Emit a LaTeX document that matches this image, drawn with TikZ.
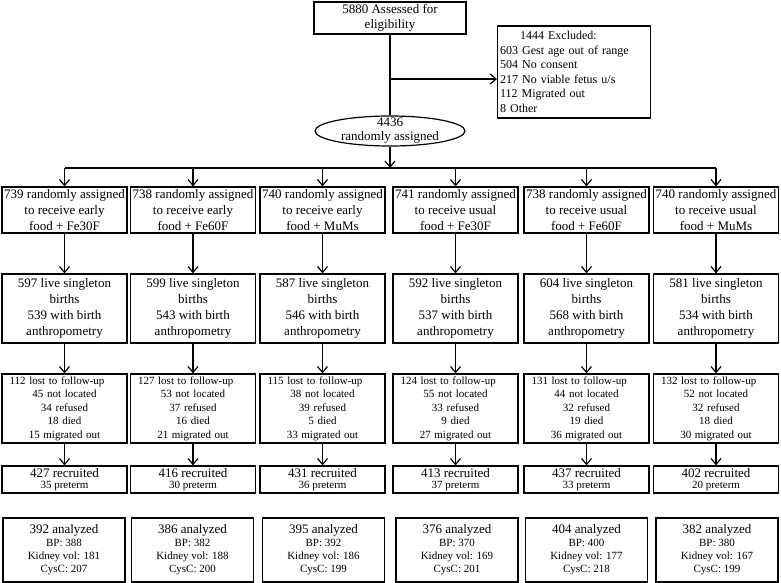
\documentclass[tikz,border=0pt]{standalone}
\usepackage{fontspec}
\setmainfont{Liberation Serif}
\usepackage{tikz}
\usetikzlibrary{positioning, shapes, arrows.meta, calc}

\newcommand{\firstrow}[1]{\makebox[110pt][l]{#1}}

\tikzset{
    box/.style={draw, line width=1.2pt, inner sep=0pt, align=center, minimum width=125pt, font=\fontsize{13}{16}\selectfont},
    lostbox/.style={box, minimum height=69pt, text width=110pt, font=\fontsize{11}{13.5}\selectfont},
    recbox/.style={box, minimum height=27pt, font=\fontsize{13}{11.5}\selectfont},
    anbox/.style={box, minimum width=122pt, minimum height=64pt, font=\fontsize{11}{13}\selectfont},
    link/.style={line width=1.2pt},
    flow/.style={line width=1.2pt, -{Straight Barb[length=6pt,width=10pt,line width=1.2pt]}}
}

\begin{document}
\begin{tikzpicture}[x=1pt, y=-1pt]
    \useasboundingbox (0,0) rectangle (781,583);

    \node[box, minimum width=152pt, minimum height=32pt, font=\fontsize{13}{14.5}\selectfont] (assess) at (390,18) {5880 Assessed for\\eligibility};
    \node[draw, line width=1.2pt, anchor=west, align=left, inner sep=2.5pt, text width=148pt, minimum height=92pt, font=\fontsize{12}{14.5}\selectfont] (excl) at (497,72) {\hspace*{20pt}1444 Excluded:\\603 Gest age out of range\\504 No consent\\217 No viable fetus u/s\\112 Migrated out\\8 Other};
    \node[draw, ellipse, line width=1.2pt, inner sep=0pt, minimum width=150pt, minimum height=30pt,
        label={[align=center, font=\fontsize{13}{14}\selectfont]center:4436\\randomly assigned}] (rand) at (390,131) {};

    \coordinate (split) at (390,79);
    \coordinate (hub) at (390,168);

    \foreach \i/\x/\cnt/\food/\supp in {1/64.5/739/early/Fe30F, 2/193/738/early/Fe60F, 3/322.5/740/early/MuMs, 4/455.5/741/usual/Fe30F, 5/586.5/738/usual/Fe60F, 6/716/740/usual/MuMs}
        \node[box, minimum height=46pt] (a\i) at (\x,210) {\cnt{} randomly assigned\\to receive \food\\food + \supp};

    \foreach \i/\cnt/\wb in {1/597/539, 2/599/543, 3/587/546, 4/592/537, 5/604/568, 6/581/534}
        \node[box, minimum height=69pt] (b\i) at (a\i |- 0,308.5) {\cnt{} live singleton\\births\\\wb{} with birth\\anthropometry};

    \foreach \i/\lo/\nl/\rf/\dd/\mg in {1/112/45/34/18/15, 2/127/53/37/16/21, 3/115/38/39/5/33, 4/124/55/33/9/27, 5/131/44/32/19/36, 6/132/52/32/18/30}
        \node[lostbox] (l\i) at (a\i |- 0,408.5) {\firstrow{\lo{} lost to follow-up}\\\nl{} not located\\\rf{} refused\\\dd{} died\\\mg{} migrated out};

    \foreach \i/\cnt/\pre in {1/427/35, 2/416/30, 3/431/36, 4/413/37, 5/437/33, 6/402/20}
        \node[recbox] (r\i) at (a\i |- 0,479.5) {\cnt{} recruited\\{\fontsize{11}{11.5}\selectfont \pre{} preterm}};

    \foreach \i/\x/\cnt/\bp/\kv/\cys in {1/64/392/388/181/207, 2/192.5/386/382/188/200, 3/323.5/395/392/186/199, 4/457/376/370/169/201, 5/586.5/404/400/177/218, 6/717/382/380/167/199}
        \node[anbox] (n\i) at (\x,550) {{\fontsize{13}{13}\selectfont \cnt{} analyzed}\\BP: \bp\\Kidney vol: \kv\\CysC: \cys};

    \draw[link] (assess) -- (rand);
    \draw[flow] (split) -- (split -| excl.west);
    \draw[flow] (rand) -- (hub);
    \draw[link] (a1 |- hub) -- (a6 |- hub);
    \foreach \i in {1,...,6} {
        \draw[flow] (a\i |- hub) -- (a\i);
        \draw[flow] (a\i) -- (b\i);
        \draw[flow] (b\i) -- (l\i);
        \draw[flow] (l\i) -- (r\i);
    }
\end{tikzpicture}
\end{document}
